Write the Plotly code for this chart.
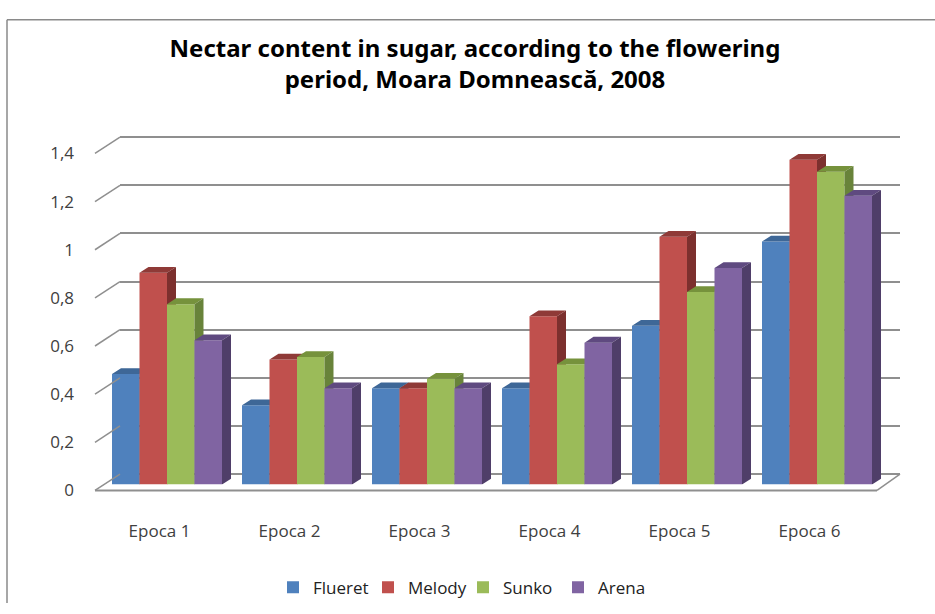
import plotly.graph_objects as go

# ---------------- data ----------------
categories = ["Epoca 1", "Epoca 2", "Epoca 3", "Epoca 4", "Epoca 5", "Epoca 6"]
series_names = ["Flueret", "Melody", "Sunko", "Arena"]
flueret = [0.46, 0.33, 0.40, 0.40, 0.66, 1.01]
melody = [0.88, 0.52, 0.40, 0.70, 1.03, 1.35]
sunko = [0.75, 0.53, 0.44, 0.50, 0.80, 1.30]
arena = [0.60, 0.40, 0.40, 0.59, 0.90, 1.20]
y_ticks = [0, 0.2, 0.4, 0.6, 0.8, 1.0, 1.2, 1.4]
y_tick_labels = ["0", "0,2", "0,4", "0,6", "0,8", "1", "1,2", "1,4"]

values = [flueret, melody, sunko, arena]
front_colors = ["#4F81BD", "#C0504D", "#9BBB59", "#8064A2"]
top_colors = ["#3E6797", "#8F3A37", "#76923C", "#5F4A80"]
side_colors = ["#355A87", "#7C302E", "#68833A", "#4F3E69"]

# ---------------- layout helpers (pixels -> paper) ----------------
W, H = 935, 614
def fx(px):
    return px / W
def fy(py):
    return 1 - py / H

GROUP_PX = 130.0      # pixels per category
BAR_PX = 27.5         # bar width in pixels
PX_PER_UNIT = 250.0   # pixels per y unit
DEPTH_X, DEPTH_Y = 9.0, 6.0

bw = BAR_PX / GROUP_PX
dxu = DEPTH_X / GROUP_PX
dyu = DEPTH_Y / PX_PER_UNIT

fig = go.Figure()

# back wall (gridlines) subplot
fig.add_trace(go.Scatter(x=[0], y=[0], xaxis="x", yaxis="y", mode="markers",
                         marker=dict(opacity=0), hoverinfo="skip", showlegend=False))

for k in range(4):
    ax = k + 2
    xs = [i + (k - 1.5) * bw for i in range(len(categories))]
    fig.add_trace(go.Bar(x=xs, y=values[k], width=bw, name=series_names[k],
                         marker=dict(color=front_colors[k], line=dict(width=0)),
                         xaxis=f"x{ax}", yaxis=f"y{ax}",
                         customdata=categories,
                         hovertemplate="%{customdata}: %{y}<extra>" + series_names[k] + "</extra>"))
    tx, ty, sx, sy = [], [], [], []
    for xc, v in zip(xs, values[k]):
        xl, xr = xc - bw / 2, xc + bw / 2
        tx += [xl, xl + dxu, xr + dxu, xr, xl, None]
        ty += [v, v + dyu, v + dyu, v, v, None]
        sx += [xr, xr + dxu, xr + dxu, xr, xr, None]
        sy += [0, dyu, v + dyu, v, 0, None]
    fig.add_trace(go.Scatter(x=tx, y=ty, fill="toself", fillcolor=top_colors[k], mode="none",
                             xaxis=f"x{ax}", yaxis=f"y{ax}", hoverinfo="skip", showlegend=False,
                             cliponaxis=False))
    fig.add_trace(go.Scatter(x=sx, y=sy, fill="toself", fillcolor=side_colors[k], mode="none",
                             xaxis=f"x{ax}", yaxis=f"y{ax}", hoverinfo="skip", showlegend=False,
                             cliponaxis=False))

# label subplot
fig.add_trace(go.Scatter(x=[0], y=[0], xaxis="x6", yaxis="y6", mode="markers",
                         marker=dict(opacity=0), hoverinfo="skip", showlegend=False))

GRID = "#8f8f8f"
LABEL_FONT = dict(family="Open Sans", size=17, color="#404040")
layout = dict(
    width=W, height=H, autosize=False,
    margin=dict(l=0, r=0, t=0, b=0),
    paper_bgcolor="white", plot_bgcolor="rgba(0,0,0,0)",
    barmode="overlay",
    title=dict(text="<b>Nectar content in sugar, according to the flowering<br>period, Moara Domnească, 2008</b>",
               x=fx(475), xanchor="center", y=fy(57), yanchor="middle",
               font=dict(family="Noto Sans", size=24, color="#000000")),
    showlegend=True,
    legend=dict(orientation="h", x=fx(463), xanchor="center", y=fy(598), yanchor="middle",
                font=dict(family="Open Sans", size=17, color="#222222"),
                bgcolor="rgba(0,0,0,0)", itemwidth=30, entrywidth=50),
    xaxis=dict(domain=[fx(120), fx(900)], range=[-0.5, 5.5], visible=False, anchor="y", fixedrange=True),
    yaxis=dict(domain=[fy(480 + 0.1 * PX_PER_UNIT), fy(480 - 1.5 * PX_PER_UNIT)], range=[-0.1, 1.5], anchor="x",
               tickvals=y_ticks, showticklabels=False, showgrid=True, gridcolor=GRID, gridwidth=2,
               zeroline=False, showline=False, ticks="", fixedrange=True),
    xaxis6=dict(domain=[fx(94.5), fx(874.5)], range=[-0.5, 5.5], anchor="y6",
                tickvals=list(range(len(categories))), ticktext=categories,
                ticks="outside", ticklen=25, tickcolor="rgba(0,0,0,0)",
                showgrid=False, zeroline=False, showline=False,
                tickfont=LABEL_FONT, fixedrange=True),
    yaxis6=dict(domain=[fy(497), fy(147)], range=[0, 1.4], anchor="x6",
                tickvals=y_ticks, ticktext=y_tick_labels,
                ticks="outside", ticklen=16, tickcolor="rgba(0,0,0,0)",
                showgrid=False, zeroline=False, showline=False,
                tickfont=LABEL_FONT, fixedrange=True),
)
for k in range(4):
    ax = k + 2
    xd = dict(domain=[fx(102), fx(882)], range=[-0.5, 5.5], visible=False, anchor=f"y{ax}", fixedrange=True)
    yd = dict(domain=[fy(491), fy(141)], range=[0, 1.4], visible=False, anchor=f"x{ax}", fixedrange=True)
    if ax > 2:
        xd["overlaying"] = "x2"
        yd["overlaying"] = "y2"
    layout[f"xaxis{ax}"] = xd
    layout[f"yaxis{ax}"] = yd

shapes = []
# chart area border
shapes.append(dict(type="line", xref="paper", yref="paper", x0=fx(7), y0=fy(8), x1=1.0, y1=fy(8),
                   line=dict(color="#8a8a8a", width=1.5)))
shapes.append(dict(type="line", xref="paper", yref="paper", x0=fx(7), y0=fy(8), x1=fx(7), y1=0.0,
                   line=dict(color="#8a8a8a", width=1.5)))
# left wall slanted edges at each gridline
for v in y_ticks:
    shapes.append(dict(type="line", xref="paper", yref="paper",
                       x0=fx(95), y0=fy(497 - PX_PER_UNIT * v), x1=fx(120), y1=fy(480 - PX_PER_UNIT * v),
                       line=dict(color=GRID, width=1.5)))
# floor front and right edges
shapes.append(dict(type="line", xref="paper", yref="paper", x0=fx(95), y0=fy(497), x1=fx(877), y1=fy(497),
                   line=dict(color=GRID, width=2)))
shapes.append(dict(type="line", xref="paper", yref="paper", x0=fx(877), y0=fy(497), x1=fx(900), y1=fy(480),
                   line=dict(color=GRID, width=1.5)))
layout["shapes"] = shapes

fig.update_layout(**layout)
fig.write_html("out.html")
